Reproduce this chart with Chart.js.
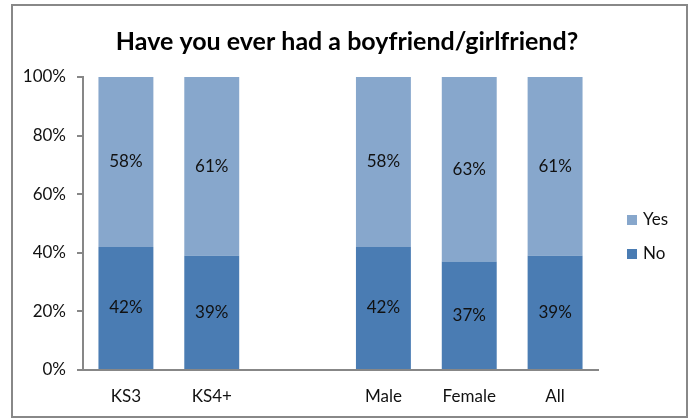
<!DOCTYPE html>
<html>
<head>
    <title>Have you ever had a boyfriend/girlfriend?</title>
    <script src="https://cdn.jsdelivr.net/npm/chart.js"></script>
    <style>
        html, body { margin: 0; padding: 0; background: #fff; }
        #chartBox { width: 694px; height: 419px; }
    </style>
</head>
<body>
    <div id="chartBox">
        <canvas id="relChart" width="694" height="419"></canvas>
    </div>

    <script>
        // Survey groups (the blank slot separates key stage from gender)
        const groups = ['KS3', 'KS4+', '', 'Male', 'Female', 'All'];
        const noValues = [42, 39, null, 42, 37, 39];
        const yesValues = [58, 61, null, 58, 63, 61];
        const yTicks = [0, 20, 40, 60, 80, 100];

        const fontName = 'Lato, "Liberation Sans", sans-serif';
        const axisGrey = '#878787';
        const textSize = 17;

        // Grey frame round the whole chart
        const framePlugin = {
            id: 'frame',
            beforeDraw(chart) {
                const ctx = chart.ctx;
                ctx.save();
                ctx.fillStyle = '#fff';
                ctx.fillRect(0, 0, chart.width, chart.height);
                ctx.strokeStyle = '#888888';
                ctx.lineWidth = 2;
                ctx.strokeRect(12, 5, 675, 412);
                ctx.restore();
            }
        };

        // Percent labels in the middle of each bar segment
        const segmentLabels = {
            id: 'segmentLabels',
            afterDatasetsDraw(chart) {
                const ctx = chart.ctx;
                ctx.save();
                ctx.font = textSize + 'px ' + fontName;
                ctx.fillStyle = '#111';
                ctx.textAlign = 'center';
                ctx.textBaseline = 'middle';
                chart.data.datasets.forEach((ds, i) => {
                    chart.getDatasetMeta(i).data.forEach((bar, j) => {
                        const v = ds.data[j];
                        if (v == null) return;
                        const mid = (bar.y + bar.base) / 2;
                        ctx.fillText(v + '%', bar.x, mid);
                    });
                });
                ctx.restore();
            }
        };

        // Legend on the right, Yes listed above No
        const sideLegend = {
            id: 'sideLegend',
            afterDraw(chart) {
                const ctx = chart.ctx;
                const items = [chart.data.datasets[1], chart.data.datasets[0]];
                const left = chart.chartArea.right + 29;
                ctx.save();
                ctx.font = textSize + 'px ' + fontName;
                ctx.textBaseline = 'middle';
                items.forEach((ds, i) => {
                    const cy = 220 + i * 34;
                    ctx.fillStyle = ds.backgroundColor;
                    ctx.fillRect(left, cy - 5, 10, 10);
                    ctx.fillStyle = '#111';
                    ctx.fillText(ds.label, left + 16, cy);
                });
                ctx.restore();
            }
        };

        const ctx = document.getElementById('relChart').getContext('2d');
        const chart = new Chart(ctx, {
            type: 'bar',
            data: {
                labels: groups,
                datasets: [
                    { label: 'No', data: noValues, backgroundColor: '#4A7CB3' },
                    { label: 'Yes', data: yesValues, backgroundColor: '#87A7CC' }
                ]
            },
            options: {
                responsive: false,
                animation: false,
                categoryPercentage: 0.64,
                barPercentage: 1,
                layout: { padding: 0 },
                plugins: {
                    legend: { display: false },
                    tooltip: { enabled: false },
                    title: {
                        display: true,
                        text: 'Have you ever had a boyfriend/girlfriend?',
                        color: '#000',
                        font: { family: fontName, size: 25, weight: 'bold', lineHeight: 1.2 },
                        padding: { top: 27, bottom: 20 }
                    }
                },
                scales: {
                    x: {
                        stacked: true,
                        grid: { display: false },
                        border: { display: true, color: axisGrey, width: 2 },
                        ticks: {
                            color: '#111',
                            font: { family: fontName, size: textSize },
                            padding: 8
                        },
                        afterFit(scale) { scale.height = 49; }
                    },
                    y: {
                        stacked: true,
                        min: 0,
                        max: 100,
                        afterBuildTicks(scale) {
                            scale.ticks = yTicks.map(v => ({ value: v }));
                        },
                        grid: {
                            drawOnChartArea: false,
                            drawTicks: true,
                            tickLength: 6,
                            color: axisGrey,
                            lineWidth: 2
                        },
                        border: { display: true, color: axisGrey, width: 2 },
                        ticks: {
                            color: '#111',
                            font: { family: fontName, size: textSize },
                            padding: 11,
                            callback: v => v + '%'
                        },
                        afterFit(scale) { scale.width = 83; }
                    },
                    // empty right-hand strip that leaves room for the legend
                    legendSpace: {
                        position: 'right',
                        display: true,
                        grid: { display: false },
                        border: { display: false },
                        ticks: { display: false },
                        afterFit(scale) { scale.width = 96; }
                    }
                }
            },
            plugins: [framePlugin, segmentLabels, sideLegend]
        });
    </script>
</body>
</html>
